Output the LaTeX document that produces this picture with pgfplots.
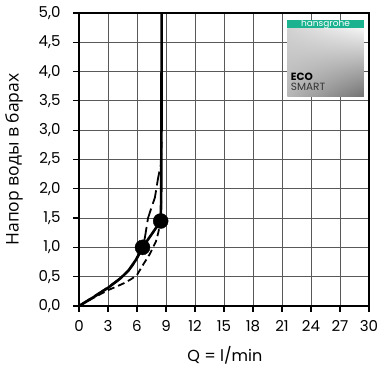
\documentclass[border=0pt]{standalone}
\usepackage{fontspec}
\setmainfont{Poppins}
\newfontfamily\cyr{Open Sans}
\usepackage{pgfplots}
\usetikzlibrary{shadings}
\pgfplotsset{compat=1.18}
\definecolor{hgreen}{HTML}{1BB38F}
\begin{document}
\begin{tikzpicture}
\begin{axis}[
  at={(0,0)}, anchor=south west,
  scale only axis, width=290pt, height=293pt,
  xmin=0, xmax=30, ymin=0, ymax=5,
  xtick={0,3,...,30}, ytick={0,0.5,...,5},
  grid=major,
  major grid style={black!65, line width=0.9pt},
  axis line style={black, line width=1.6pt},
  tick style={black, line width=1.2pt},
  tick align=outside, major tick length=6pt,
  xtick pos=bottom, ytick pos=left,
  tick label style={font=\fontsize{15}{17}\selectfont},
  /pgf/number format/assume math mode=true,
  yticklabel style={/pgf/number format/fixed, /pgf/number format/fixed zerofill, /pgf/number format/precision=1, /pgf/number format/use comma, xshift=-9pt},
  xticklabel style={/pgf/number format/fixed, /pgf/number format/precision=0, yshift=-5pt},
  xlabel={Q = l/min},
  ylabel={\cyr Напор воды в барах},
  every axis x label/.style={at={(axis description cs:0.503,-0.167)}, anchor=center, font=\fontsize{16}{18}\selectfont},
  every axis y label/.style={at={(axis description cs:-0.224,0.5)}, anchor=center, rotate=90, font=\fontsize{17.5}{19}\selectfont},
  clip=false,
]
% logo
\shade[upper left=black!18, upper right=black!4, lower left=black!28, lower right=black!55]
  (axis cs:21.55,3.58) rectangle (axis cs:29.48,4.74);
\fill[hgreen] (axis cs:21.55,4.74) rectangle (axis cs:29.48,4.88);
\node[white, font=\fontsize{9}{10}\selectfont] at (axis cs:25.5,4.81) {hansgrohe};
\node[anchor=south west, inner sep=0pt, align=left, font=\fontsize{10.5}{11}\selectfont] at (axis cs:21.9,3.67)
  {\textbf{ECO}\\[-1pt]\textcolor{black!80}{SMART}};
% lower dashed curve
\addplot[black, line width=1.8pt, dash pattern=on 7pt off 4pt] coordinates {
 (0,0) (1.5,0.14) (3,0.27) (4,0.34) (4.8,0.40) (5.5,0.47) (6.0,0.53) (6.65,0.71) (7.3,0.88) (7.96,1.10) (8.2,1.25) (8.45,1.45) (8.5,1.8)};
% upper dashed curve
\addplot[black, line width=1.8pt, dash pattern=on 14pt off 5pt] coordinates {
 (0,0) (1.5,0.16) (3,0.32) (4.5,0.50) (5.5,0.68) (6.3,0.90) (6.8,1.15) (7.14,1.50) (7.5,1.68) (7.85,1.85) (8.2,2.2) (8.45,2.4) (8.55,2.8)};
% solid curve
\addplot[black, line width=2.6pt] coordinates {
 (0,0) (1.5,0.15) (3,0.31) (4.2,0.46) (5.1,0.60) (5.9,0.79) (6.57,1.0) (7.5,1.22) (8.45,1.45) (8.5,1.8) (8.53,3.0) (8.55,5.0)};
% dots
\addplot[only marks, mark=*, mark size=7.5pt, black] coordinates {(6.57,1.0) (8.45,1.45)};
\end{axis}
\pgfresetboundingbox
\path[use as bounding box] (-79pt,-63pt) rectangle (302pt,306pt);
\end{tikzpicture}
\end{document}
